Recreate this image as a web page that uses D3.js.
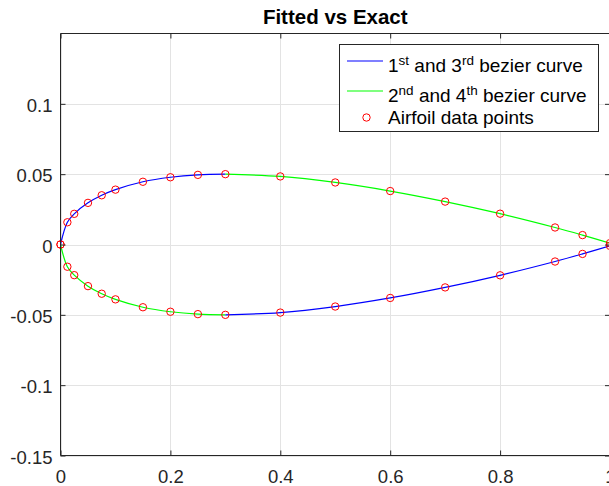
<!DOCTYPE html>
<html>
<head>
<meta charset="utf-8">
<script src="https://cdn.jsdelivr.net/npm/d3@7"></script>
<style>
  body { margin: 0; background: #fff; }
  svg { display: block; font-family: "Liberation Sans", Arial, sans-serif; }
</style>
</head>
<body>
<svg></svg>
<script>
// airfoil data points (upper surface, lower is mirrored)
const xPts = [0, 0.0125, 0.025, 0.05, 0.075, 0.1, 0.15, 0.2, 0.25, 0.3,
              0.4, 0.5, 0.6, 0.7, 0.8, 0.9, 0.95, 1.0];
const yUpper = [0, 0.0158, 0.0218, 0.0296, 0.035, 0.039, 0.0446, 0.0478, 0.0495, 0.05,
                0.0484, 0.0441, 0.038, 0.0305, 0.0219, 0.0121, 0.0067, 0.001];
const yLower = yUpper.map(v => -v);

const xTicks = [0, 0.2, 0.4, 0.6, 0.8, 1];
const yTicks = [-0.15, -0.1, -0.05, 0, 0.05, 0.1];
const xTickLabels = ['0', '0.2', '0.4', '0.6', '0.8', '1'];
const yTickLabels = ['-0.15', '-0.1', '-0.05', '0', '0.05', '0.1'];

const width = 609,
      height = 486;

const pLeft = 60.5, pRight = 610, pTop = 33.5, pBottom = 455.5;

const axisColor = '#262626';

const svg = d3.select('svg')
              .attr('width', width)
              .attr('height', height);

const xscale = d3.scaleLinear()
                 .domain([0, 1])
                 .range([pLeft, pRight]);

const yscale = d3.scaleLinear()
                 .domain([-0.15, 0.15])
                 .range([pBottom, pTop]);

// grid lines
let grid = svg.append('g').attr('id', 'grid');
grid.selectAll('.gx')
    .data(xTicks)
    .enter().append('line')
    .attr('x1', d => Math.round(xscale(d)) + 0.5)
    .attr('x2', d => Math.round(xscale(d)) + 0.5)
    .attr('y1', pTop).attr('y2', pBottom)
    .attr('stroke', '#e3e3e3');
grid.selectAll('.gy')
    .data(yTicks)
    .enter().append('line')
    .attr('y1', d => Math.round(yscale(d)) + 0.5)
    .attr('y2', d => Math.round(yscale(d)) + 0.5)
    .attr('x1', pLeft).attr('x2', pRight)
    .attr('stroke', '#e3e3e3');

// build the 4 curves, split at x = 0.3
const split = xPts.indexOf(0.3);
const toPts = ys => xPts.map((x, i) => ({ x: x, y: ys[i] }));
const upper = toPts(yUpper),
      lower = toPts(yLower);

const lineFunction = d3.line()
      .x(d => xscale(d.x))
      .y(d => yscale(d.y))
      .curve(d3.curveCatmullRom.alpha(0.5));

const curves = [
  { pts: upper.slice(0, split + 1), color: '#0000ff' },
  { pts: upper.slice(split), color: '#00ff00' },
  { pts: lower.slice(0, split + 1), color: '#00ff00' },
  { pts: lower.slice(split), color: '#0000ff' }
];

svg.append('g').selectAll('path')
   .data(curves)
   .enter().append('path')
   .attr('d', d => lineFunction(d.pts))
   .attr('fill', 'none')
   .attr('stroke', d => d.color)
   .attr('stroke-width', 1.2);

// data point circles
svg.append('g').selectAll('circle')
   .data(upper.concat(lower))
   .enter().append('circle')
   .attr('cx', d => xscale(d.x))
   .attr('cy', d => yscale(d.y))
   .attr('r', 3.7)
   .attr('fill', 'none')
   .attr('stroke', '#ff0000')
   .attr('stroke-width', 1);

// axes box + inward ticks
const x_axis = d3.axisBottom(xscale).tickValues(xTicks).tickSize(-5).tickFormat((d, i) => xTickLabels[i]).tickPadding(14);
const x_axis_top = d3.axisTop(xscale).tickValues(xTicks).tickSize(-5).tickFormat('');
const y_axis = d3.axisLeft(yscale).tickValues(yTicks).tickSize(-5).tickFormat((d, i) => yTickLabels[i]).tickPadding(8);
const y_axis_right = d3.axisRight(yscale).tickValues(yTicks).tickSize(-5).tickFormat('');

function styleAxis(g) {
  g.selectAll('path').attr('stroke', axisColor);
  g.selectAll('line').attr('stroke', axisColor);
  g.selectAll('text')
   .attr('fill', axisColor)
   .attr('font-size', '18.5px')
   .attr('font-family', '"Liberation Sans", Arial, sans-serif');
}

svg.append('g').attr('transform', 'translate(0,' + pBottom + ')').call(x_axis).call(styleAxis)
   .call(g => g.select('.domain').attr('d', 'M' + pLeft + ',0H' + pRight));
svg.append('g').attr('transform', 'translate(0,' + pTop + ')').call(x_axis_top).call(styleAxis)
   .call(g => g.select('.domain').attr('d', 'M' + pLeft + ',0H' + pRight));
svg.append('g').attr('transform', 'translate(' + pLeft + ',0)').call(y_axis).call(styleAxis)
   .call(g => g.select('.domain').attr('d', 'M0,' + pTop + 'V' + pBottom))
   .call(g => g.selectAll('text').attr('dy', '0.42em'));
svg.append('g').attr('transform', 'translate(' + pRight + ',0)').call(y_axis_right).call(styleAxis)
   .call(g => g.select('.domain').attr('d', 'M0,' + pTop + 'V' + pBottom));

// title
svg.append('text')
   .attr('x', (pLeft + pRight) / 2)
   .attr('y', 24)
   .attr('text-anchor', 'middle')
   .attr('font-size', '20.5px')
   .attr('font-weight', 'bold')
   .attr('fill', '#000')
   .text('Fitted vs Exact');

// legend
const legend = svg.append('g').attr('id', 'legend');
legend.append('rect')
      .attr('x', 339.5).attr('y', 44.5)
      .attr('width', 259).attr('height', 87)
      .attr('fill', '#fff')
      .attr('stroke', axisColor);

const legendRows = [
  { color: '#0000ff', a: '1', sa: 'st', b: ' and 3', sb: 'rd', c: ' bezier curve', y: 61 },
  { color: '#00ff00', a: '2', sa: 'nd', b: ' and 4', sb: 'th', c: ' bezier curve', y: 91 }
];

legendRows.forEach(r => {
  legend.append('line')
        .attr('x1', 347).attr('x2', 383)
        .attr('y1', r.y).attr('y2', r.y)
        .attr('stroke', r.color)
        .attr('stroke-width', 1.2);
  let t = legend.append('text')
        .attr('x', 388).attr('y', r.y + 11)
        .attr('font-size', '19px')
        .attr('fill', '#000');
  t.append('tspan').text(r.a);
  t.append('tspan').attr('dy', -7.5).attr('font-size', '13.5px').text(r.sa);
  t.append('tspan').attr('dy', 7.5).text(r.b);
  t.append('tspan').attr('dy', -7.5).attr('font-size', '13.5px').text(r.sb);
  t.append('tspan').attr('dy', 7.5).text(r.c);
});

legend.append('circle')
      .attr('cx', 366.5).attr('cy', 117.5)
      .attr('r', 3.7)
      .attr('fill', 'none')
      .attr('stroke', '#ff0000');
legend.append('text')
      .attr('x', 388).attr('y', 124)
      .attr('font-size', '19px')
      .attr('fill', '#000')
      .text('Airfoil data points');
</script>
</body>
</html>
